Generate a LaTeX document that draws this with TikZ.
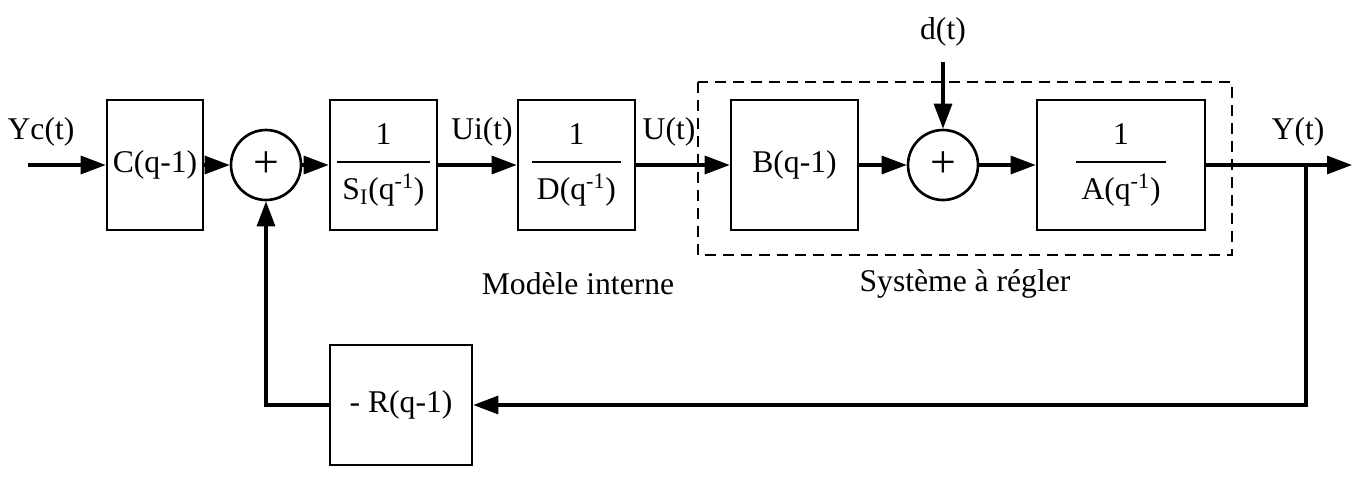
\documentclass[tikz,border=0pt]{standalone}
\usepackage{fontspec}
\setmainfont{Liberation Serif}
\usetikzlibrary{positioning,calc,arrows.meta}

% fraction 1 / den, set as text
\newcommand{\onever}[1]{{\setlength{\tabcolsep}{3pt}\setlength{\arrayrulewidth}{1pt}%
    \begin{tabular}{c}1\\[3pt]\hline\rule{0pt}{21pt}#1\end{tabular}}}

\begin{document}
\begin{tikzpicture}[
    x=0.02cm, y=-0.02cm,
    font=\fontsize{18}{21}\selectfont,
    block/.style={rectangle, draw, line width=1.5pt, minimum height=2.6cm, inner sep=0pt},
    sumnode/.style={circle, draw, line width=1.5pt, minimum size=1.4cm, inner sep=0pt, font=\fontsize{26}{28}\selectfont},
    signal/.style={line width=1.8pt, -{Triangle[length=0.5cm,width=0.36cm]}},
    wire/.style={line width=1.8pt},
    system/.style={draw, line width=1.5pt, dash pattern=on 0.22cm off 0.14cm}
]
    \useasboundingbox (0,0) rectangle (1361,480);

    % forward path
    \node[block, minimum width=1.92cm] (C) at (155,165) {C(q-1)};
    \node[sumnode] (sum1) at (266,165) {+};
    \node[block, minimum width=2.14cm] (SI) at (383.5,165) {\onever{S\textsubscript{I}(q\textsuperscript{-1})}};
    \node[block, minimum width=2.34cm] (D) at (576.5,165) {\onever{D(q\textsuperscript{-1})}};
    \node[block, minimum width=2.54cm] (B) at (794.5,165) {B(q-1)};
    \node[sumnode] (sum2) at (943,165) {+};
    \node[block, minimum width=3.36cm] (A) at (1121,165) {\onever{A(q\textsuperscript{-1})}};
    \node[block, minimum width=2.84cm, minimum height=2.4cm] (R) at (401,405) {- R(q-1)};

    % system frame
    \draw[system] (698,82) rectangle (1232,255);

    \coordinate (in) at (28,165);
    \coordinate (out) at (1352,165);
    \coordinate (br) at (1306,165);
    \coordinate (dist) at (943,62);

    % labels
    \node (yc) at (41,132) {Yc(t)};
    \node (ui) at (482,132) {Ui(t)};
    \node (u) at (669,132) {U(t)};
    \node (y) at (1298,132) {Y(t)};
    \node (d) at (943,32) {d(t)};
    \node (modele) at (578,284) {Modèle interne};
    \node (systeme) at (965,284) {Système à régler};

    % connectors
    \draw[signal] (in) -- (C.west);
    \draw[signal] (C.east) -- (sum1.west);
    \draw[signal] (sum1.east) -- (SI.west);
    \draw[signal] (SI.east) -- (D.west);
    \draw[signal] (D.east) -- (B.west);
    \draw[signal] (B.east) -- (sum2.west);
    \draw[signal] (sum2.east) -- (A.west);
    \draw[signal] (A.east) -- (out);
    \draw[signal] (dist) -- (sum2.north);
    \draw[signal] (br) |- (R.east);
    \draw[signal] (R.west) -| (sum1.south);
\end{tikzpicture}
\end{document}
